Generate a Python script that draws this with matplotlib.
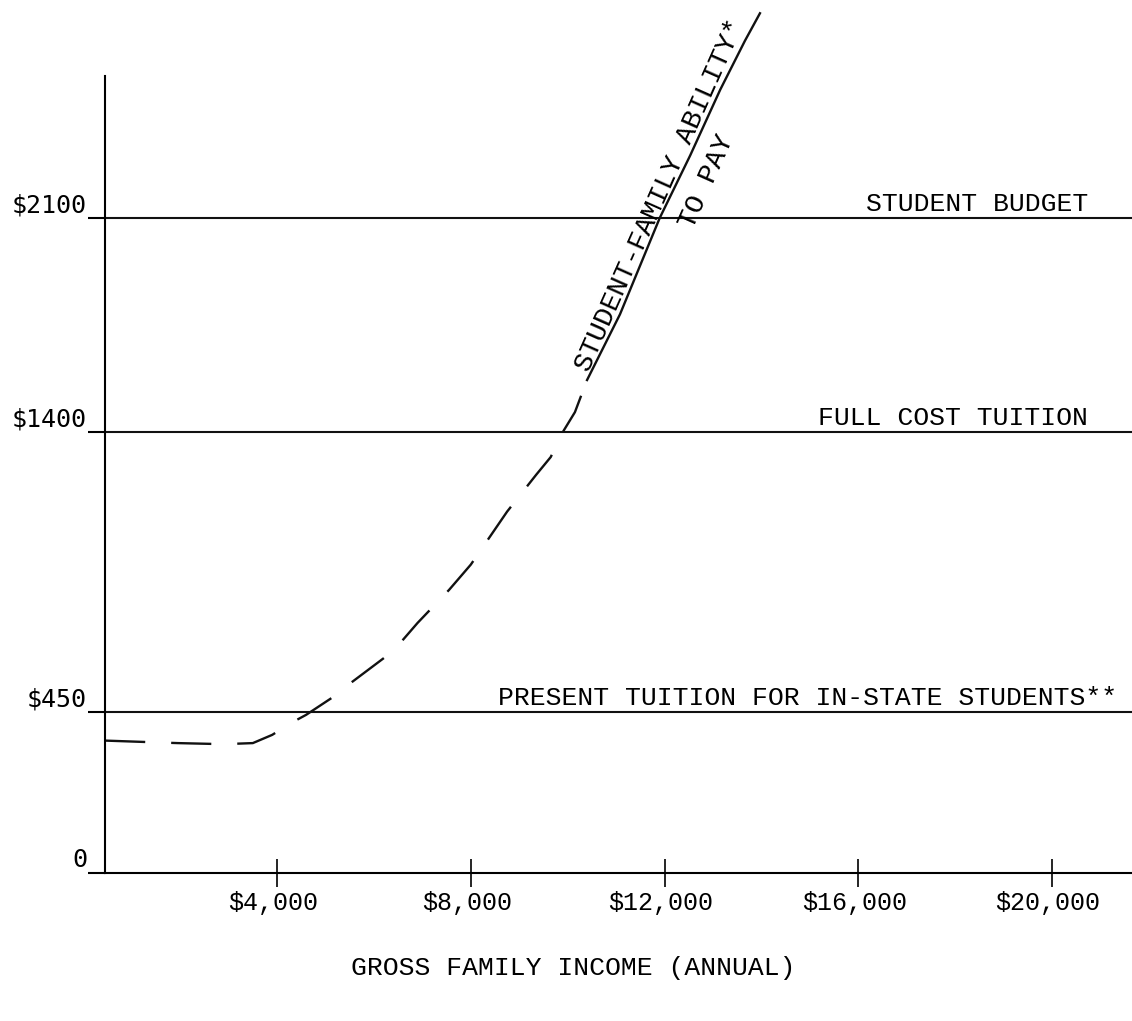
import numpy as np
import matplotlib
matplotlib.use('Agg')
import matplotlib.pyplot as plt
from matplotlib import transforms

# axis ticks
y_ticks = [0, 450, 1400, 2100]
y_tick_labels = ['0', '$450', '$1400', '$2100']
x_ticks = [4000, 8000, 12000, 16000, 20000]
x_tick_labels = ['$4,000', '$8,000', '$12,000', '$16,000', '$20,000']

# reference levels
budget = 2100
full_cost = 1400
present_tuition = 450

# ability to pay curve (income, dollars)
dashed_income = [450, 1300, 1950, 2900, 3500, 3900, 4300, 4600, 5150, 5550,
                 6400, 6900, 7550, 8000, 8750, 9350, 9650, 9900, 10150, 10400]
dashed_pay = [370, 366, 363, 360, 363, 386, 420, 442, 500, 552,
              657, 752, 864, 950, 1130, 1255, 1315, 1400, 1465, 1570]
solid_income = [10400, 11080, 11900, 12530, 13150, 13660, 13970]
solid_pay = [1570, 1785, 2100, 2305, 2520, 2680, 2770]

# the y axis of the drawing is not to scale, the levels were spaced by hand
scale_vals = [-1000, 0, 450, 1400, 2100, 5000]
scale_pos = [-358, 0, 161, 441, 655, 655 + 2900 * 0.3057]


def fwd(v):
    return np.interp(v, scale_vals, scale_pos)


def inv(p):
    return np.interp(p, scale_pos, scale_vals)


mono = 'Liberation Mono'
fig = plt.figure(figsize=(11.32, 10.21), dpi=100)
ax = fig.add_axes([0.0928, 0.145, 0.9072, 0.851])

ax.set_yscale('function', functions=(fwd, inv))
ax.set_xlim(449, 21651)
ax.set_ylim(0, 2800)

for s in ['top', 'right']:
    ax.spines[s].set_visible(False)
ax.spines['left'].set_bounds(0, 2564)
ax.spines['left'].set_linewidth(1.5)
ax.spines['bottom'].set_linewidth(1.5)

for lvl in [present_tuition, full_cost, budget]:
    ax.axhline(lvl, color='#111111', lw=1.5)

ax.plot(dashed_income, dashed_pay, color='#111111', lw=1.7, dashes=(17, 11))
ax.plot(solid_income, solid_pay, color='#111111', lw=1.7, clip_on=False)

# ticks
ax.set_yticks(y_ticks)
ax.set_yticklabels(y_tick_labels, fontfamily='DejaVu Sans Mono', fontsize=18)
ax.tick_params(axis='y', direction='out', length=12, width=1.5, pad=1)
up = transforms.ScaledTranslation(0, 0.15, fig.dpi_scale_trans)
for lab in ax.get_yticklabels():
    lab.set_transform(lab.get_transform() + up)

ax.set_xticks(x_ticks)
ax.set_xticklabels(x_tick_labels, fontfamily=mono, fontsize=18)
ax.tick_params(axis='x', direction='inout', length=20, width=1.2, pad=3)
left = transforms.ScaledTranslation(-0.04, 0, fig.dpi_scale_trans)
for lab in ax.get_xticklabels():
    lab.set_transform(lab.get_transform() + left)

# level labels
trans = transforms.blended_transform_factory(ax.transAxes, ax.transData)
trans = trans + transforms.ScaledTranslation(0, 0.07, fig.dpi_scale_trans)
ax.text(0.957, budget, 'STUDENT BUDGET', transform=trans, ha='right',
        va='baseline', fontfamily=mono, fontsize=19)
ax.text(0.957, full_cost, 'FULL COST TUITION', transform=trans, ha='right',
        va='baseline', fontfamily=mono, fontsize=19)
ax.text(0.986, present_tuition, 'PRESENT TUITION FOR IN-STATE STUDENTS**',
        transform=trans, ha='right', va='baseline', fontfamily=mono, fontsize=19)

# curve label along the line
ax.text(10436, 1592, 'STUDENT-FAMILY ABILITY*', rotation=66,
        rotation_mode='anchor', ha='left', va='baseline',
        fontfamily=mono, fontsize=20)
ax.text(12877, 2218, 'TO PAY', rotation=66, rotation_mode='anchor',
        ha='center', va='center', fontfamily=mono, fontsize=20)

fig.text(0.506, 1 - 968 / 1021, 'GROSS FAMILY INCOME (ANNUAL)', ha='center',
         va='center', fontfamily=mono, fontsize=19)

fig.savefig('out.png', dpi=100)
